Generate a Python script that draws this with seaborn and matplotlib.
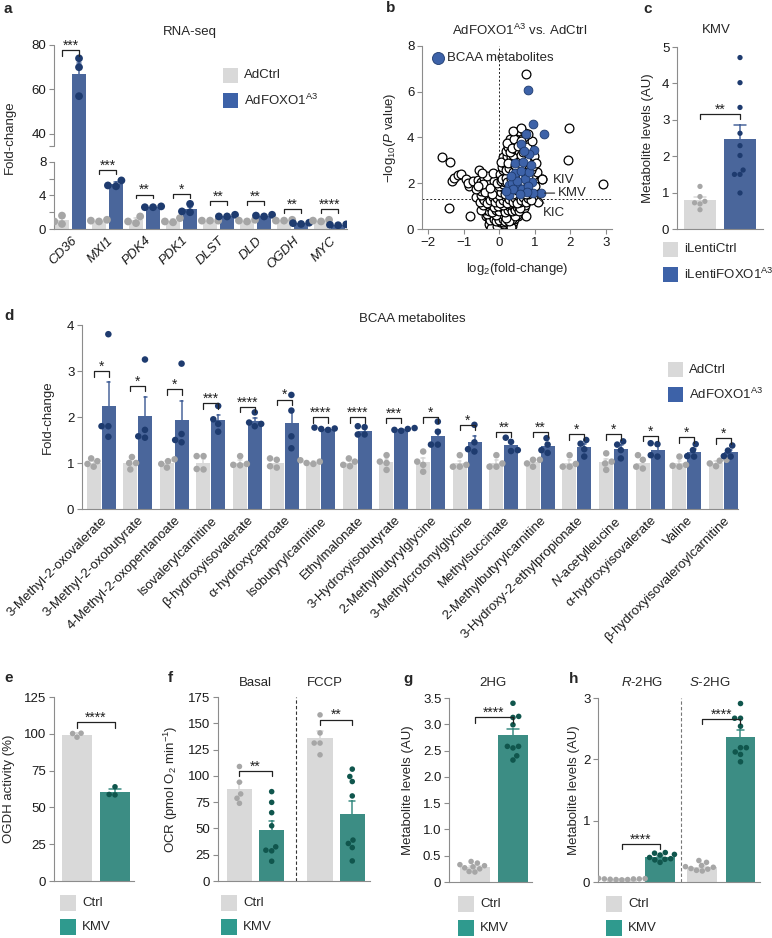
"""Multi-panel figure: FOXO1 / BCAA metabolites / KMV effects (bars + swarms, volcano plot)"""

import numpy as np
import pandas as pd
import matplotlib.pyplot as plt
import matplotlib.transforms as mtransforms
from matplotlib.patches import Rectangle
import seaborn as sns

# ~~~~~~~~~~   colours   ~~~~~~~~~~~~~~~~~~~~~~~~~~~~~~~~~~~~~~~~~~~~~~~~~~~~~~~~~~~~~~~ #
GRAY_BAR, GRAY_DOT = '#d9d9d9', '#a6a6a6'
BLUE_BAR, BLUE_DOT = '#3d62a8', '#1e3b6f'
TEAL_BAR, TEAL_DOT = '#2f9a8e', '#10564d'
AXIS_GRAY = '#8c8c8c'
FS = 9.5  # base font size

# ~~~~~~~~~~   data   ~~~~~~~~~~~~~~~~~~~~~~~~~~~~~~~~~~~~~~~~~~~~~~~~~~~~~~~~~~~~~~~~~~ #
# a: RNA-seq fold-change
genes = ['CD36', 'MXI1', 'PDK4', 'PDK1', 'DLST', 'DLD', 'OGDH', 'MYC']
a_ctrl = [[1.6, 0.6, 0.9], [1.0, 0.9, 1.1], [1.5, 0.7, 0.9], [1.3, 0.8, 0.9],
          [1.0, 1.0, 1.0], [1.0, 0.9, 1.1], [1.0, 1.0, 1.1], [1.0, 1.1, 0.9]]
a_foxo = [[74, 70, 57], [5.8, 5.2, 5.1], [2.7, 2.6, 2.6], [3.0, 2.1, 2.0],
          [1.7, 1.5, 1.5], [1.7, 1.5, 1.6], [0.75, 0.6, 0.7], [0.5, 0.45, 0.55]]
a_stars = ['***', '***', '**', '*', '**', '**', '**', '****']
a_brk = [77.7, 7.0, 4.1, 4.2, 3.3, 3.3, 2.4, 2.4]

# b: volcano plot (log2 fold-change, -log10 P)
other_pts = [
    (-0.15, 0.25), (-0.10, 0.10), (-0.05, 0.05), (0.00, 0.02), (0.05, 0.08), (0.10, 0.15), (0.15, 0.05),
    (0.20, 0.20), (0.25, 0.12), (-0.20, 0.30), (0.00, 0.20), (0.08, 0.28), (-0.08, 0.18), (0.18, 0.30),
    (0.30, 0.25), (0.12, 0.00), (-0.02, 0.12), (0.22, 0.10), (0.05, 0.22), (-0.12, 0.08),
    (-0.25, 0.15), (-0.18, 0.02), (0.28, 0.05), (0.35, 0.15), (-0.30, 0.20), (0.40, 0.30), (-0.22, 0.45),
    (0.08, 0.38), (-0.02, 0.30), (0.22, 0.70), (-0.12, 0.72), (0.32, 0.75), (-0.28, 0.70), (0.48, 0.75),
    (0.60, 0.70), (0.52, 0.55), (-0.38, 0.55),
    (-0.22, 0.05), (-0.06, 0.15), (0.02, 0.32), (0.14, 0.22), (0.26, 0.28), (0.32, 0.08), (-0.16, 0.38),
    (-0.04, 0.42), (0.10, 0.32), (0.20, 0.40), (0.33, 0.38), (0.38, 0.50), (0.42, 0.42), (-0.26, 0.55),
    (-0.12, 0.52), (0.00, 0.50), (0.08, 0.52), (0.16, 0.60), (0.24, 0.50), (0.28, 0.70), (0.36, 0.58),
    (0.44, 0.68), (0.50, 0.62), (-0.32, 0.72), (-0.18, 0.68), (-0.04, 0.68), (0.06, 0.78), (0.18, 0.82),
    (0.26, 0.62), (0.38, 0.72), (0.52, 0.85), (0.58, 1.00), (0.65, 0.95), (-0.38, 0.90), (-0.22, 0.85),
    (-0.08, 0.78), (0.02, 0.90), (0.14, 0.95), (0.26, 1.00), (0.34, 0.90), (0.44, 0.95), (0.48, 1.08),
    (-0.30, 0.50), (-0.25, 0.40), (-0.20, 0.60), (-0.15, 0.45), (-0.10, 0.35), (-0.05, 0.55), (0.00, 0.40),
    (0.05, 0.60), (0.10, 0.45), (0.15, 0.35), (0.20, 0.55), (0.25, 0.40), (0.30, 0.60), (0.35, 0.45),
    (0.40, 0.65), (-0.35, 0.65), (0.02, 0.70), (0.12, 0.65), (0.28, 0.33), (-0.08, 0.62), (0.45, 0.55),
    (0.18, 0.50), (-0.42, 0.85), (-0.35, 1.00), (-0.30, 0.80), (-0.25, 0.95), (-0.20, 0.75), (-0.15, 1.05),
    (-0.10, 0.85), (-0.05, 0.95), (0.00, 0.80), (0.05, 1.00), (0.10, 0.90), (0.15, 0.75), (0.20, 1.05),
    (0.25, 0.85), (0.30, 0.95), (0.35, 0.80), (0.40, 1.00), (0.45, 0.85), (0.50, 0.95), (0.55, 0.80),
    (0.60, 1.05), (-0.52, 0.83), (0.70, 0.90), (0.75, 0.55), (0.02, 1.05), (0.15, 1.10), (0.28, 1.10),
    (0.42, 1.12), (-0.08, 1.10), (-0.22, 1.10), (0.65, 1.15), (0.72, 1.05), (0.58, 0.90),
    (-0.45, 1.05), (-0.30, 1.10), (-0.16, 0.95), (-0.02, 1.00), (0.10, 1.05), (0.22, 1.25), (0.35, 1.30),
    (0.42, 1.25), (0.52, 1.30), (0.60, 1.38), (0.70, 1.30), (0.78, 1.45), (0.85, 1.50), (-0.50, 1.30),
    (-0.38, 1.42), (-0.22, 1.35), (-0.08, 1.45), (0.04, 1.30), (0.14, 1.35), (0.25, 1.45), (0.30, 1.20),
    (0.40, 1.40), (0.48, 1.45), (0.58, 1.20), (0.65, 1.50), (0.72, 1.55),
    (-0.65, 1.41), (-0.55, 1.20), (-0.45, 1.35),
    (-0.42, 1.27), (-0.35, 1.15), (-0.30, 1.45), (-0.25, 1.25), (-0.18, 1.42), (-0.12, 1.20), (-0.05, 1.35),
    (0.02, 1.15), (0.08, 1.45), (0.12, 1.25), (0.18, 1.40), (0.22, 1.15), (0.28, 1.30), (0.33, 1.45),
    (0.38, 1.20), (0.45, 1.35), (0.50, 1.15), (0.55, 1.45), (0.62, 1.25), (0.68, 1.40), (0.75, 1.20),
    (0.82, 1.35), (1.10, 1.20), (-0.50, 1.50), (-0.30, 1.65), (-0.12, 1.60), (0.00, 1.50), (0.18, 1.62),
    (0.28, 1.85), (0.38, 1.68), (0.48, 1.60), (0.58, 1.75), (0.68, 1.60), (0.78, 1.75), (0.92, 1.70),
    (0.95, 1.45), (0.88, 1.25),
    (0.05, 1.75), (0.15, 1.70), (0.22, 1.85), (0.32, 1.70), (0.42, 1.85), (0.52, 1.95), (0.62, 1.80),
    (0.72, 1.90), (0.82, 1.55), (0.90, 1.80), (-0.15, 1.75), (-0.35, 1.75),
    (-0.84, 1.86), (-0.52, 1.67), (-0.32, 1.88), (-0.09, 1.70), (-0.40, 1.60),
    (-0.20, 1.55), (0.05, 1.60), (0.10, 1.85), (0.15, 1.55), (0.20, 1.75), (0.25, 1.95), (0.30, 1.60),
    (0.35, 1.80), (0.40, 1.55), (0.45, 1.95), (0.50, 1.70), (0.55, 1.85), (0.60, 1.60), (0.65, 1.90),
    (0.70, 1.70), (0.75, 1.55), (0.80, 1.85), (0.85, 1.65), (0.90, 1.95), (0.00, 1.90), (0.12, 1.95),
    (-1.60, 3.16), (-1.37, 2.94), (-1.32, 2.10), (-1.28, 2.21), (-1.15, 2.36), (-1.07, 2.40), (-0.93, 2.17),
    (-0.87, 2.00), (-0.74, 2.12), (-0.56, 2.60), (-0.60, 2.15), (-0.52, 2.04), (-0.42, 2.22), (-0.27, 2.05),
    (-1.40, 0.90), (-0.82, 0.57), (-0.35, 2.30), (-0.15, 2.10), (-0.45, 1.95), (-0.65, 1.75),
    (-0.60, 1.90), (-0.25, 1.80), (-0.05, 2.00), (-0.48, 2.45), (-0.18, 2.45),
    (0.05, 2.10), (0.10, 2.30), (0.15, 2.05), (0.20, 2.45), (0.25, 2.20), (0.30, 2.55), (0.35, 2.10),
    (0.40, 2.35), (0.45, 2.05), (0.50, 2.50), (0.55, 2.20), (0.60, 2.40), (0.65, 2.10), (0.70, 2.55),
    (0.75, 2.30), (0.80, 2.15), (0.85, 2.45), (0.90, 2.25), (0.98, 2.10), (1.20, 2.18), (0.02, 2.40),
    (0.12, 2.58), (0.28, 2.35), (0.62, 2.60), (0.08, 2.20), (0.18, 2.25), (0.22, 2.05), (0.32, 2.20),
    (0.42, 2.15), (0.48, 2.30), (0.58, 2.05), (0.68, 2.30), (0.78, 2.45), (0.88, 2.10), (0.95, 2.35),
    (1.00, 1.90), (1.05, 2.50), (0.35, 2.45), (0.55, 2.60), (0.72, 2.45), (0.82, 2.30),
    (0.08, 2.70), (0.15, 2.95), (0.20, 2.75), (0.25, 3.10),
    (0.30, 2.80), (0.35, 3.00), (0.40, 2.65), (0.45, 3.15), (0.50, 2.85), (0.55, 3.05), (0.60, 2.70),
    (0.65, 3.20), (0.70, 2.90), (0.75, 2.65), (0.80, 3.10), (0.85, 2.80), (0.92, 3.00), (0.12, 3.15),
    (0.18, 2.60), (0.28, 2.65), (0.38, 2.50), (0.48, 2.70), (0.58, 2.90), (0.68, 2.75), (0.78, 2.85),
    (0.88, 2.60), (0.95, 2.75), (0.05, 2.95), (0.22, 3.20), (0.32, 3.15), (0.42, 2.95), (0.52, 3.25),
    (0.62, 3.00), (0.72, 3.15), (0.88, 3.20), (0.98, 3.20), (1.02, 2.90), (0.25, 2.90), (0.45, 2.80),
    (0.65, 2.85), (0.75, 3.00),
    (0.38, 3.25), (0.18, 3.40), (0.25, 3.60), (0.30, 3.35), (0.38, 3.75), (0.45, 3.50), (0.50, 3.90),
    (0.55, 3.40), (0.60, 3.65), (0.65, 4.05), (0.70, 3.50), (0.75, 3.80), (0.80, 3.35), (0.85, 3.70),
    (0.45, 4.15), (0.55, 4.30), (0.72, 4.20), (0.30, 3.95), (0.90, 3.50), (0.60, 3.25),
    (0.22, 3.75), (0.35, 3.55), (0.42, 3.95), (0.52, 3.65), (0.62, 3.85), (0.68, 3.35), (0.78, 3.60),
    (0.92, 3.85), (0.40, 4.30), (0.62, 4.40), (0.82, 4.15),
    (0.75, 6.77), (1.96, 4.40), (1.93, 3.00), (2.93, 1.97), (1.20, 2.18),
]
bcaa_pts = [
    (0.81, 6.07), (1.26, 4.14), (0.95, 4.58), (0.98, 3.45), (0.92, 2.05), (1.17, 1.57), (0.95, 1.57),
    (0.45, 2.88), (0.45, 2.44), (0.28, 1.92), (0.36, 2.00), (0.28, 1.48), (0.53, 1.85), (0.75, 4.15),
    (0.62, 3.70), (0.85, 3.30), (0.68, 2.95), (0.60, 2.55), (0.72, 2.20), (0.50, 2.10), (0.40, 1.75),
    (0.65, 1.75), (0.80, 1.90), (0.85, 2.50), (0.78, 1.60), (0.90, 2.80), (0.58, 1.55), (0.33, 2.30),
    (0.20, 1.65), (0.70, 3.40),
]

# c: KMV metabolite levels
c_groups = ['iLentiCtrl', 'iLentiFOXO1']
c_vals = [[1.17, 0.89, 0.76, 0.72, 0.69, 0.53],
          [4.71, 4.02, 3.34, 2.63, 2.29, 2.02, 1.62, 1.50, 1.50, 0.99]]

# d: BCAA metabolites fold-change
d_labels = ['3-Methyl-2-oxovalerate', '3-Methyl-2-oxobutyrate', '4-Methyl-2-oxopentanoate',
            'Isovalerylcarnitine', 'β-hydroxyisovalerate', 'α-hydroxycaproate', 'Isobutyrylcarnitine',
            'Ethylmalonate', '3-Hydroxyisobutyrate', '2-Methylbutyrylglycine', '3-Methylcrotonylglycine',
            'Methylsuccinate', '2-Methylbutyrylcarnitine', '3-Hydroxy-2-ethylpropionate',
            '$N$-acetylleucine', 'α-hydroxyisovalerate', 'Valine', 'β-hydroxyisovaleroylcarnitine']
d_ctrl = [[1.10, 1.04, 0.98, 0.92], [1.13, 1.00, 1.00, 0.86], [1.08, 1.04, 0.98, 0.90],
          [1.15, 1.15, 0.87, 0.86], [1.15, 0.98, 0.96, 0.95], [1.10, 1.07, 0.93, 0.90],
          [1.06, 1.03, 1.00, 0.98], [1.10, 1.03, 0.96, 0.93], [1.17, 1.03, 1.00, 0.85],
          [1.25, 1.03, 0.96, 0.81], [1.17, 0.96, 0.92, 0.92], [1.17, 0.99, 0.92, 0.92],
          [1.07, 1.07, 0.99, 0.92], [1.17, 0.98, 0.92, 0.92], [1.21, 1.03, 0.99, 0.85],
          [1.17, 1.07, 0.92, 0.88], [1.14, 0.96, 0.94, 0.92], [1.07, 1.05, 0.99, 0.93]]
d_foxo = [[3.80, 1.80, 1.80, 1.57], [3.25, 1.72, 1.58, 1.55], [3.16, 1.63, 1.50, 1.45],
          [2.24, 1.95, 1.85, 1.68], [2.10, 1.88, 1.85, 1.80], [2.48, 2.14, 1.58, 1.32],
          [1.77, 1.75, 1.74, 1.72], [1.80, 1.78, 1.62, 1.62], [1.76, 1.74, 1.72, 1.70],
          [1.90, 1.68, 1.40, 1.40], [1.83, 1.45, 1.30, 1.25], [1.55, 1.46, 1.28, 1.26],
          [1.54, 1.40, 1.28, 1.22], [1.50, 1.42, 1.30, 1.14], [1.47, 1.40, 1.28, 1.10],
          [1.43, 1.41, 1.17, 1.14], [1.41, 1.28, 1.15, 1.14], [1.38, 1.27, 1.15, 1.14]]
d_stars = ['*', '*', '*', '***', '****', '*', '****', '****', '***', '*', '*', '**', '**',
           '*', '*', '*', '*', '*']
d_brk = [3.0, 2.68, 2.6, 2.3, 2.22, 2.38, 2.0, 2.0, 1.98, 1.99, 1.83, 1.68, 1.68,
         1.62, 1.62, 1.59, 1.56, 1.54]

# e: OGDH activity (%)
e_vals = [[97.7, 100.2, 100.4], [64.0, 58.5, 58.8]]

# f: OCR, Basal / FCCP
f_conds = ['Basal', 'FCCP']
f_ctrl = [[108.9, 94.0, 82.8, 78.7, 73.9], [158.0, 140.8, 131.2, 131.2, 120.0]]
f_kmv = [[85.0, 74.8, 65.0, 52.5, 32.5, 28.7, 29.3, 18.8],
         [106.4, 99.4, 94.6, 80.9, 38.9, 35.7, 31.8, 19.1]]
f_brk = [104.8, 153.5]

# g: 2HG
g_vals = [[0.39, 0.36, 0.33, 0.31, 0.29, 0.27, 0.25, 0.20, 0.19],
          [3.40, 3.15, 3.13, 2.99, 2.58, 2.58, 2.55, 2.40, 2.32]]

# h: R-2HG / S-2HG
h_conds = ['R-2HG', 'S-2HG']
h_ctrl = [[0.06, 0.055, 0.05, 0.05, 0.05, 0.045, 0.04, 0.04, 0.035],
          [0.35, 0.32, 0.27, 0.25, 0.24, 0.22, 0.21, 0.19, 0.18]]
h_kmv = [[0.48, 0.47, 0.45, 0.44, 0.40, 0.38, 0.37, 0.36, 0.32],
         [2.91, 2.67, 2.67, 2.54, 2.19, 2.19, 2.12, 2.08, 1.96]]
h_brk = [0.62, 2.66]


# ~~~~~~~~~~   helpers   ~~~~~~~~~~~~~~~~~~~~~~~~~~~~~~~~~~~~~~~~~~~~~~~~~~~~~~~~~~~~~~~ #
W, H = 772, 938


def grouped_df(cats, groups, values):
    # values[group][cat] -> list of points
    rows = [(c, g, v) for g, per_cat in zip(groups, values)
            for c, pts in zip(cats, per_cat) for v in pts]
    return pd.DataFrame(rows, columns=['cat', 'grp', 'value'])


def simple_df(groups, values):
    rows = [(g, g, v) for g, pts in zip(groups, values) for v in pts]
    return pd.DataFrame(rows, columns=['cat', 'grp', 'value'])


def draw_bars(ax, df, order, hue_order, bar_cols, dot_cols, width, gap=0.0, capsize=0.25,
              dot_size=4, dodge=False, shift=0.0):
    sns.barplot(data=df, x='cat', y='value', hue='grp', order=order, hue_order=hue_order,
                palette=bar_cols, width=width, gap=gap, errorbar='se', capsize=capsize,
                err_kws={'linewidth': 1.1}, linewidth=0, legend=False, ax=ax)
    # error bars take the colour of their own bar
    centers = [(p.get_x() + p.get_width() / 2, p.get_facecolor()) for p in ax.patches]
    for ln in ax.lines:
        xm = np.nanmean(ln.get_xdata())
        ln.set_color(min(centers, key=lambda c: abs(c[0] - xm))[1])
    n0 = len(ax.collections)
    sns.swarmplot(data=df, x='cat', y='value', hue='grp', order=order, hue_order=hue_order,
                  palette=dot_cols, dodge=dodge, size=dot_size, legend=False, ax=ax,
                  zorder=3, warn_thresh=1)
    if shift:  # move dodged swarms onto the bar centres
        for coll in ax.collections[n0:]:
            xm = np.mean(coll.get_offsets()[:, 0])
            s = np.sign(xm - np.round(xm))
            coll.set_offset_transform(mtransforms.Affine2D().translate(s * shift, 0) + ax.transData)


def style(ax, ylabel, label_x):
    for s in ['top', 'right']:
        ax.spines[s].set_visible(False)
    for s in ['left', 'bottom']:
        ax.spines[s].set_color(AXIS_GRAY)
        ax.spines[s].set_linewidth(0.8)
    ax.tick_params(which='both', colors=AXIS_GRAY, labelcolor='#1a1a1a', length=3.5,
                   width=0.8, labelsize=FS, pad=2)
    ax.set_xlabel('')
    ax.set_ylabel(ylabel, fontsize=FS)
    # put the y label centre at a pixel column
    x0 = ax.get_position().x0 * W
    w = ax.get_position().width * W
    ax.yaxis.set_label_coords((label_x + 6.5 - x0) / w, 0.5)


def bracket(ax, x0, x1, y, drop, label):
    ax.plot([x0, x0, x1, x1], [y - drop, y, y, y - drop], color='#222222', lw=0.9,
            zorder=4, clip_on=False)
    ax.annotate(label, xy=((x0 + x1) / 2, y), xytext=(0, 0.3), textcoords='offset points',
                ha='center', va='baseline', fontsize=10, color='#222222')


def add_ax(x0, y0, x1, y1):
    return fig.add_axes([x0 / W, 1 - y1 / H, (x1 - x0) / W, (y1 - y0) / H])


def ftext(x, y, s, **kw):
    kw.setdefault('fontsize', FS)
    kw.setdefault('va', 'center')
    fig.text(x / W, 1 - y / H, s, **kw)


def legend_box(x, y, labels, colors, pitch=25, size=15):
    for i, (lab, col) in enumerate(zip(labels, colors)):
        top = y + i * pitch
        fig.add_artist(Rectangle((x / W, 1 - (top + size) / H), size / W, size / H,
                                 transform=fig.transFigure, facecolor=col, edgecolor='none'))
        ftext(x + size + 6, top + size / 2, lab)


# ~~~~~~~~~~   figure   ~~~~~~~~~~~~~~~~~~~~~~~~~~~~~~~~~~~~~~~~~~~~~~~~~~~~~~~~~~~~~~~ #
sns.set_style('ticks')
plt.rcParams['font.family'] = ['Liberation Sans', 'DejaVu Sans']
plt.rcParams['mathtext.fontset'] = 'custom'
plt.rcParams['mathtext.rm'] = 'Liberation Sans'
plt.rcParams['mathtext.it'] = 'Liberation Sans:italic'
plt.rcParams['mathtext.bf'] = 'Liberation Sans:bold'

fig = plt.figure(figsize=(W / 100, H / 100), dpi=100)
FOXO = 'AdFOXO1$^{\\mathrm{A3}}$'

# ---------- a : RNA-seq with broken y axis ----------
axa = add_ax(54, 45, 347, 229)


def brk_fwd(v):
    v = np.asarray(v, dtype=float)
    return np.where(v <= 8, v * 8.375,
                    np.where(v <= 34.6, 67 + (v - 8) * (16 / 26.6), 83 + (v - 34.6) * (101 / 45.4)))


def brk_inv(u):
    u = np.asarray(u, dtype=float)
    return np.where(u <= 67, u / 8.375,
                    np.where(u <= 83, 8 + (u - 67) * (26.6 / 16), 34.6 + (u - 83) * (45.4 / 101)))


axa.set_yscale('function', functions=(brk_fwd, brk_inv))
axa.set_ylim(0, 80)
axa.set_xlim(-0.446, 7.47)
df_a = grouped_df(genes, ['AdCtrl', 'AdFOXO'], [a_ctrl, a_foxo])
draw_bars(axa, df_a, genes, ['AdCtrl', 'AdFOXO'], [GRAY_BAR, BLUE_BAR], [GRAY_DOT, BLUE_DOT],
          width=0.92, gap=0.2, capsize=0.22, dot_size=5.6, dodge=True, shift=0.03)
axa.set_ylim(0, 80)
axa.set_xlim(-0.446, 7.47)
axa.yaxis.set_major_locator(plt.FixedLocator([0, 4, 8, 40, 60, 80]))
axa.yaxis.set_minor_locator(plt.FixedLocator([2, 6, 34.6]))
axa.yaxis.set_major_formatter(plt.FixedFormatter(['0', '4', '8', '40', '60', '80']))
axa.yaxis.set_minor_formatter(plt.NullFormatter())
style(axa, 'Fold-change', 9)
axa.set_xticks(range(len(genes)))
axa.set_xticklabels(genes, rotation=45, ha='right', rotation_mode='anchor', style='italic')
axa.tick_params(axis='x', length=0, pad=4)
axa.spines['left'].set_bounds(0, 8)
axa.plot([0, 0], [34.6, 80], transform=axa.get_yaxis_transform(), color=AXIS_GRAY, lw=0.8,
         clip_on=False)
for i, (st, yb) in enumerate(zip(a_stars, a_brk)):
    bracket(axa, i - 0.23, i + 0.23, yb, 2.5 if yb > 30 else 0.45, st)
ftext(190, 32, 'RNA-seq', ha='center')
legend_box(223, 68, ['AdCtrl', FOXO], [GRAY_BAR, BLUE_BAR])

# ---------- b : volcano ----------
axb = add_ax(422, 46, 612, 229)
other = pd.DataFrame(other_pts, columns=['log2fc', 'nlogp'])
bcaa = pd.DataFrame(bcaa_pts, columns=['log2fc', 'nlogp'])
axb.axvline(0, color='#222222', lw=0.7, ls=(0, (2, 2)), zorder=0)
axb.axhline(-np.log10(0.05), color='#222222', lw=0.7, ls=(0, (2, 2)), zorder=0)
sns.scatterplot(data=other, x='log2fc', y='nlogp', color='white', edgecolor='black', s=40,
                linewidth=0.9, ax=axb, zorder=2)
sns.scatterplot(data=bcaa, x='log2fc', y='nlogp', color=BLUE_BAR, edgecolor='#1e3b6f', s=40,
                linewidth=0.6, ax=axb, zorder=3)
axb.set_xlim(-2.17, 3.17)
axb.set_ylim(0, 8)
axb.set_xticks([-2, -1, 0, 1, 2, 3])
axb.set_yticks([0, 2, 4, 6, 8])
style(axb, '\u2212log$_{10}$($P$ value)', 391)
axb.set_xlabel('log$_2$(fold-change)', fontsize=FS)
axb.xaxis.set_label_coords(0.5, -0.175)
ann = dict(arrowstyle='-', color='#222222', lw=0.8, shrinkA=0, shrinkB=2)
axb.annotate('KIV', xy=(0.98, 2.1), xytext=(1.5, 2.15), va='center', ha='left', fontsize=FS)
axb.annotate('KMV', xy=(1.2, 1.57), xytext=(1.65, 1.57), va='center', ha='left', fontsize=FS,
             arrowprops=ann)
axb.annotate('KIC', xy=(1.0, 1.5), xytext=(1.22, 0.72), va='center', ha='left', fontsize=FS,
             arrowprops=ann)
axb.scatter([0.084], [0.934], s=75, color=BLUE_BAR, edgecolor='#1e3b6f', linewidth=0.6,
            transform=axb.transAxes, clip_on=False, zorder=5)
ftext(447, 58, 'BCAA metabolites')
ftext(520, 30, FOXO + ' vs. AdCtrl', ha='center')

# ---------- c : KMV ----------
axc = add_ax(677, 47, 763, 229)
df_c = simple_df(c_groups, c_vals)
draw_bars(axc, df_c, c_groups, c_groups, [GRAY_BAR, BLUE_BAR], [GRAY_DOT, BLUE_DOT],
          width=0.78, capsize=0.28, dot_size=3.8)
axc.set_xlim(-0.575, 1.575)
axc.set_ylim(0, 5)
axc.set_yticks([0, 1, 2, 3, 4, 5])
axc.set_xticks([])
style(axc, 'Metabolite levels (AU)', 647)
bracket(axc, 0, 1, 3.15, 0.14, '**')
ftext(716, 30, 'KMV', ha='center')
legend_box(663, 242, ['iLentiCtrl', 'iLentiFOXO1$^{\\mathrm{A3}}$'], [GRAY_BAR, BLUE_BAR])

# ---------- d : BCAA metabolites ----------
axd = add_ax(82, 325, 738, 509)
df_d = grouped_df(d_labels, ['AdCtrl', 'AdFOXO'], [d_ctrl, d_foxo])
draw_bars(axd, df_d, d_labels, ['AdCtrl', 'AdFOXO'], [GRAY_BAR, BLUE_BAR], [GRAY_DOT, BLUE_DOT],
          width=0.82, gap=0.07, capsize=0.17, dot_size=4.7, dodge=True)
axd.set_xlim(-0.52, 17.4)
axd.set_ylim(0, 4)
axd.set_yticks([0, 1, 2, 3, 4])
style(axd, 'Fold-change', 47)
axd.set_xticks(range(len(d_labels)))
axd.set_xticklabels(d_labels, rotation=45, ha='right', rotation_mode='anchor')
axd.tick_params(axis='x', length=0, pad=4)
for i, (st, yb) in enumerate(zip(d_stars, d_brk)):
    bracket(axd, i - 0.205, i + 0.205, yb, 0.12, st)
ftext(412, 319, 'BCAA metabolites', ha='center')
legend_box(668, 362, ['AdCtrl', FOXO], [GRAY_BAR, BLUE_BAR])

# ---------- e : OGDH activity ----------
axe = add_ax(54, 697, 134, 881)
df_e = simple_df(['Ctrl', 'KMV'], e_vals)
draw_bars(axe, df_e, ['Ctrl', 'KMV'], ['Ctrl', 'KMV'], [GRAY_BAR, TEAL_BAR], [GRAY_DOT, TEAL_DOT],
          width=0.79, capsize=0.3, dot_size=4)
axe.set_xlim(-0.605, 1.5)
axe.set_ylim(0, 125)
axe.set_yticks([0, 25, 50, 75, 100, 125])
axe.set_xticks([])
style(axe, 'OGDH activity (%)', 9)
bracket(axe, 0, 1, 108, 4, '****')
legend_box(60, 895, ['Ctrl', 'KMV'], [GRAY_BAR, TEAL_BAR], pitch=24, size=16)

# ---------- f : OCR ----------
axf = add_ax(218, 697, 370, 881)
df_f = grouped_df(f_conds, ['Ctrl', 'KMV'], [f_ctrl, f_kmv])
draw_bars(axf, df_f, f_conds, ['Ctrl', 'KMV'], [GRAY_BAR, TEAL_BAR], [GRAY_DOT, TEAL_DOT],
          width=0.8, gap=0.22, capsize=0.14, dot_size=4, dodge=True)
axf.axvline(0.5, color='#333333', lw=0.8, ls=(0, (3, 2)))
axf.set_xlim(-0.466, 1.42)
axf.set_ylim(0, 175)
axf.set_yticks([0, 25, 50, 75, 100, 125, 150, 175])
axf.set_xticks([])
style(axf, 'OCR (pmol O$_2$ min$^{-1}$)', 173)
for i, yb in enumerate(f_brk):
    bracket(axf, i - 0.2, i + 0.2, yb, 5, '**')
ftext(255, 683, 'Basal', ha='center')
ftext(325, 683, 'FCCP', ha='center')
legend_box(221, 895, ['Ctrl', 'KMV'], [GRAY_BAR, TEAL_BAR], pitch=24, size=16)

# ---------- g : 2HG ----------
axg = add_ax(449, 698, 532, 882)
df_g = simple_df(['Ctrl', 'KMV'], g_vals)
draw_bars(axg, df_g, ['Ctrl', 'KMV'], ['Ctrl', 'KMV'], [GRAY_BAR, TEAL_BAR], [GRAY_DOT, TEAL_DOT],
          width=0.79, capsize=0.3, dot_size=4)
axg.set_xlim(-0.68, 1.5)
axg.set_ylim(0, 3.5)
axg.set_yticks([0, 0.5, 1.0, 1.5, 2.0, 2.5, 3.0, 3.5])
axg.set_yticklabels(['0', '0.5', '1.0', '1.5', '2.0', '2.5', '3.0', '3.5'])
axg.set_xticks([])
style(axg, 'Metabolite levels (AU)', 407)
bracket(axg, 0, 1, 3.13, 0.1, '****')
ftext(493, 683, '2HG', ha='center')
legend_box(458, 896, ['Ctrl', 'KMV'], [GRAY_BAR, TEAL_BAR], pitch=24, size=16)

# ---------- h : R-2HG / S-2HG ----------
axh = add_ax(598, 698, 760, 882)
df_h = grouped_df(h_conds, ['Ctrl', 'KMV'], [h_ctrl, h_kmv])
draw_bars(axh, df_h, h_conds, ['Ctrl', 'KMV'], [GRAY_BAR, TEAL_BAR], [GRAY_DOT, TEAL_DOT],
          width=0.95, gap=0.22, capsize=0.16, dot_size=4, dodge=True, shift=0.0375)
axh.axvline(0.5, color='#777777', lw=0.8, ls=(0, (3, 2)))
axh.set_xlim(-0.534, 1.48)
axh.set_ylim(0, 3)
axh.set_yticks([0, 1, 2, 3])
axh.set_xticks([])
style(axh, 'Metabolite levels (AU)', 574)
for i, yb in enumerate(h_brk):
    bracket(axh, i - 0.2375, i + 0.2375, yb, 0.08, '****')
ftext(642, 683, '$R$-2HG', ha='center')
ftext(710, 683, '$S$-2HG', ha='center')
legend_box(606, 896, ['Ctrl', 'KMV'], [GRAY_BAR, TEAL_BAR], pitch=24, size=16)

# ---------- panel letters ----------
for letter, (lx, ly) in zip('abcdefgh', [(4, 9), (386, 8), (643, 9), (4, 316), (4, 678),
                                          (168, 678), (403, 679), (569, 679)]):
    ftext(lx, ly, letter, fontsize=11, fontweight='bold')

fig.savefig('out.png', dpi=100)
